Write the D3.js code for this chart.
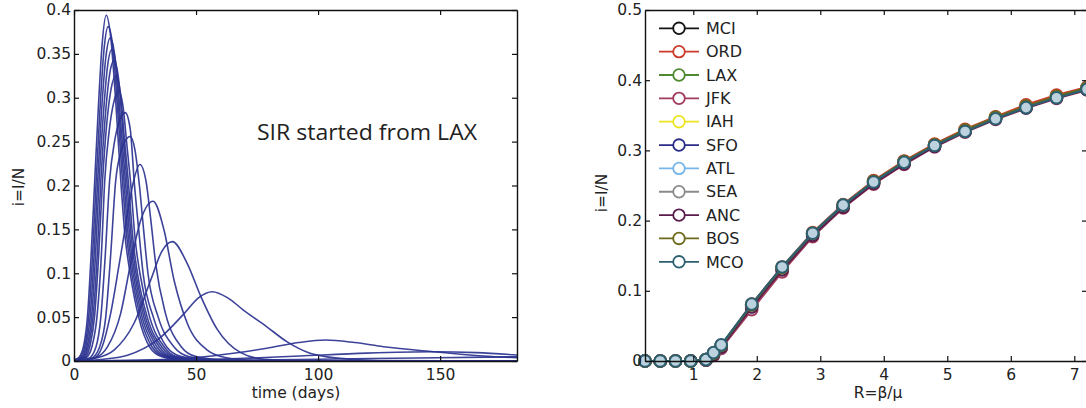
<!DOCTYPE html>
<html>
<head>
<meta charset="utf-8">
<script src="https://cdn.jsdelivr.net/npm/d3@7"></script>
<style>
  body { margin: 0; background: #fff; }
  svg { display: block; font-family: "DejaVu Sans", sans-serif; }
</style>
</head>
<body>
<svg id="chart" width="1086" height="408"></svg>
<script>
// ---- left panel: i(t) curves, [day, i] ----
const curveA = [[0,0.001],[2,0.004],[4,0.018],[5.5,0.05],[7,0.12],[8.5,0.206],[10,0.29],[11.5,0.36],[13.2,0.394],[15,0.37],[17,0.3],[19.3,0.2],[21,0.14],[23,0.1],[26.5,0.05],[31,0.016],[36,0.005],[45,0.001],[60,0],[181.5,0]];
const curveB = [[0,0.001],[2.5,0.004],[4.5,0.018],[6,0.05],[7.6,0.12],[9.1,0.206],[10.7,0.29],[12.3,0.355],[14,0.381],[15.8,0.36],[17.8,0.29],[20,0.2],[21.7,0.14],[23.6,0.1],[27.2,0.05],[32,0.016],[37,0.005],[46,0.001],[60,0],[181.5,0]];
const curveC = [[0,0.001],[3,0.004],[5,0.018],[6.6,0.05],[8.2,0.12],[9.7,0.206],[11.3,0.285],[13,0.345],[14.8,0.368],[16.6,0.35],[18.5,0.28],[20.6,0.2],[22.3,0.14],[24.2,0.1],[27.9,0.05],[33,0.016],[38,0.005],[47,0.001],[62,0],[181.5,0]];
const curveD = [[0,0.001],[3.5,0.004],[5.5,0.018],[7.2,0.05],[8.8,0.12],[10.3,0.206],[12,0.28],[13.7,0.335],[15.5,0.355],[17.3,0.337],[19.2,0.27],[21.2,0.2],[22.9,0.14],[24.8,0.1],[28.6,0.05],[34,0.016],[39,0.005],[48,0.001],[64,0],[181.5,0]];
const curveE = [[0,0.001],[4,0.004],[6,0.018],[7.8,0.05],[9.5,0.12],[11,0.206],[12.7,0.275],[14.5,0.325],[16.3,0.342],[18.1,0.325],[20,0.262],[21.8,0.2],[23.5,0.14],[25.4,0.1],[29.3,0.05],[35,0.016],[40,0.005],[50,0.001],[66,0],[181.5,0]];
const curveF = [[0,0.001],[4.5,0.004],[6.6,0.018],[8.4,0.05],[10.1,0.12],[11.7,0.206],[13.4,0.27],[15.2,0.31],[17.1,0.325],[18.9,0.308],[20.6,0.255],[22.4,0.2],[24.1,0.14],[26,0.1],[30,0.05],[36,0.016],[41,0.005],[52,0.001],[68,0],[181.5,0]];
const curveG = [[0,0.001],[5,0.004],[7.5,0.018],[9.4,0.05],[11.2,0.12],[12.6,0.206],[14.4,0.262],[16.3,0.295],[18.2,0.308],[20,0.292],[21.7,0.245],[23.3,0.2],[25,0.14],[27,0.1],[31,0.05],[37,0.016],[42,0.005],[54,0.001],[70,0],[181.5,0]];
const curveH = [[0,0.0005],[6,0.003],[9,0.016],[11,0.05],[12.8,0.12],[14.6,0.206],[16.6,0.25],[18.8,0.275],[21,0.283],[23,0.265],[24.8,0.2],[26.5,0.15],[28.3,0.1],[32.5,0.05],[38,0.016],[44,0.005],[56,0.001],[72,0],[181.5,0]];
const curveI = [[0,0.0005],[7,0.003],[10.5,0.016],[13,0.05],[15,0.12],[17.1,0.206],[19.5,0.24],[23,0.256],[25,0.24],[26.8,0.2],[28.5,0.15],[30.3,0.1],[34.5,0.05],[41,0.016],[47,0.005],[58,0.001],[75,0],[181.5,0]];
const curveJ = [[0,0.0003],[8,0.003],[11.5,0.016],[15,0.054],[18.5,0.11],[21.5,0.16],[24,0.2],[27,0.224],[29.5,0.205],[31.5,0.16],[33.5,0.11],[37.5,0.054],[44,0.016],[50,0.005],[62,0.001],[80,0],[181.5,0]];
const curveK = [[0,0.0002],[9,0.004],[13.7,0.016],[19.1,0.054],[23.2,0.111],[27.3,0.16],[32.4,0.182],[36.9,0.149],[41,0.092],[46.4,0.043],[54.6,0.0125],[62,0.004],[75,0.0005],[90,0],[181.5,0]];
const curveL = [[0,0.0002],[10,0.004],[16.4,0.0125],[24.6,0.043],[31.4,0.092],[36,0.125],[40.3,0.136],[46.4,0.111],[51.9,0.074],[58.7,0.036],[68.3,0.0095],[78,0.002],[95,0],[181.5,0]];
const curveM = [[0,0.0001],[12,0.002],[21.9,0.0065],[34.2,0.024],[45.1,0.054],[51,0.072],[56.7,0.079],[63,0.072],[69.4,0.058],[79,0.039],[87.2,0.022],[96.7,0.0088],[109,0.003],[125,0.0005],[181.5,0]];
const curveN = [[0,0],[30,0.001],[51.6,0.0042],[65.3,0.0088],[79,0.0145],[92,0.021],[103,0.0239],[115,0.021],[126.8,0.0163],[147.3,0.0106],[167.7,0.0057],[181.5,0.0038]];
const curveO = [[0,0],[40,0.001],[70,0.003],[92.6,0.0057],[120,0.009],[147,0.0106],[165,0.0095],[181.5,0.0068]];
const curveP = [[0,0],[60,0.0008],[100,0.002],[140,0.0035],[181.5,0.0048]];
const curveZero = [[0,0],[181.5,0]];

const sirCurves = [curveZero, curveP, curveO, curveN, curveM, curveL, curveK, curveJ,
  curveI, curveH, curveG, curveF, curveE, curveD, curveC, curveB, curveA];
const dayTicks = [0, 50, 100, 150];
const iTicksLeft = [0, 0.05, 0.1, 0.15, 0.2, 0.25, 0.3, 0.35, 0.4];

// ---- right panel: final i vs R for each start airport ----
const rValues = [0.24, 0.48, 0.72, 0.96, 1.2, 1.32, 1.44, 1.92, 2.4, 2.88, 3.36, 3.84, 4.32, 4.8, 5.28, 5.76, 6.24, 6.72, 7.2];
const mci = [0, 0, 0, 0, 0.002, 0.011, 0.022, 0.08, 0.133, 0.182, 0.222, 0.256, 0.284, 0.308, 0.329, 0.347, 0.363, 0.377, 0.389];
const ord = [0, 0, 0, 0, 0.002, 0.011, 0.022, 0.081, 0.134, 0.183, 0.223, 0.257, 0.285, 0.309, 0.33, 0.348, 0.365, 0.379, 0.39];
const lax = [0, 0, 0, 0, 0.002, 0.01, 0.021, 0.079, 0.132, 0.181, 0.221, 0.255, 0.283, 0.307, 0.328, 0.346, 0.362, 0.376, 0.388];
const jfk = [0, 0, 0, 0, 0.001, 0.008, 0.018, 0.073, 0.127, 0.177, 0.218, 0.252, 0.28, 0.305, 0.326, 0.344, 0.36, 0.374, 0.386];
const iah = [0, 0, 0, 0, 0.002, 0.01, 0.021, 0.079, 0.132, 0.181, 0.221, 0.255, 0.283, 0.307, 0.328, 0.346, 0.362, 0.376, 0.388];
const sfo = [0, 0, 0, 0, 0.002, 0.01, 0.02, 0.078, 0.131, 0.18, 0.22, 0.254, 0.282, 0.306, 0.327, 0.345, 0.361, 0.375, 0.387];
const atl = [0, 0, 0, 0, 0.002, 0.011, 0.022, 0.08, 0.133, 0.182, 0.222, 0.255, 0.283, 0.307, 0.328, 0.346, 0.362, 0.376, 0.388];
const sea = [0, 0, 0, 0, 0.002, 0.01, 0.021, 0.079, 0.132, 0.181, 0.221, 0.255, 0.283, 0.307, 0.328, 0.346, 0.362, 0.376, 0.388];
const anc = [0, 0, 0, 0, 0.001, 0.009, 0.02, 0.077, 0.13, 0.179, 0.219, 0.253, 0.281, 0.306, 0.327, 0.345, 0.361, 0.375, 0.387];
const bos = [0, 0, 0, 0, 0.002, 0.011, 0.022, 0.08, 0.133, 0.182, 0.222, 0.256, 0.284, 0.308, 0.329, 0.347, 0.363, 0.377, 0.389];
const mco = [0, 0, 0, 0, 0.002, 0.012, 0.023, 0.081, 0.134, 0.182, 0.222, 0.255, 0.283, 0.307, 0.327, 0.345, 0.361, 0.375, 0.387];

const airports = ["MCI", "ORD", "LAX", "JFK", "IAH", "SFO", "ATL", "SEA", "ANC", "BOS", "MCO"];
const airportValues = [mci, ord, lax, jfk, iah, sfo, atl, sea, anc, bos, mco];
const rTicks = [1, 2, 3, 4, 5, 6, 7];
const iTicksRight = [0, 0.1, 0.2, 0.3, 0.4, 0.5];

const boje = {
  MCI: "#151515", ORD: "#cc3b2a", LAX: "#4e8a30", JFK: "#a23c5c", IAH: "#ece41e",
  SFO: "#2a2a88", ATL: "#78b6ea", SEA: "#8a8a8a", ANC: "#5a1c4c", BOS: "#6c6a1c", MCO: "#2c5f70",
};

const svg = d3.select("#chart");
const fmt = d3.format("");

function okvir(g, x, y, xTicks, yTicks, xFmt) {
  const [x0, x1] = x.range();
  const [y0, y1] = y.range();
  g.append("g").attr("transform", `translate(0,${y0})`)
    .call(d3.axisBottom(x).tickValues(xTicks).tickFormat(xFmt).tickSizeInner(-5).tickSizeOuter(0).tickPadding(8));
  g.append("g").attr("transform", `translate(0,${y1})`)
    .call(d3.axisTop(x).tickValues(xTicks).tickFormat("").tickSizeInner(-5).tickSizeOuter(0));
  g.append("g").attr("transform", `translate(${x0},0)`)
    .call(d3.axisLeft(y).tickValues(yTicks).tickFormat(fmt).tickSizeInner(-5).tickSizeOuter(0).tickPadding(3));
  g.append("g").attr("transform", `translate(${x1},0)`)
    .call(d3.axisRight(y).tickValues(yTicks).tickFormat("").tickSizeInner(-5).tickSizeOuter(0));
  g.selectAll(".domain").attr("stroke", "#111").attr("stroke-width", 1.4);
  g.selectAll(".tick line").attr("stroke", "#111").attr("stroke-width", 1.2);
  g.selectAll(".tick text").attr("font-size", 15.5).attr("font-family", "DejaVu Sans, sans-serif").attr("fill", "#222");
}

// ---- left ----
const xL = d3.scaleLinear().domain([0, 181.5]).range([74, 517]);
const yL = d3.scaleLinear().domain([0, 0.4]).range([361, 10]);

svg.append("clipPath").attr("id", "clipL")
  .append("rect").attr("x", 74).attr("y", 8).attr("width", 443).attr("height", 353);

const linija = d3.line().x((d) => xL(d[0])).y((d) => yL(d[1])).curve(d3.curveMonotoneX);

const lijevo = svg.append("g");
lijevo.append("g").attr("clip-path", "url(#clipL)")
  .selectAll("path")
  .data(sirCurves)
  .join("path")
  .attr("d", linija)
  .attr("fill", "none")
  .attr("stroke", "#2b3390")
  .attr("stroke-width", 1.6)
  .attr("stroke-opacity", 0.92);

okvir(lijevo, xL, yL, dayTicks, iTicksLeft, fmt);

lijevo.append("text")
  .attr("x", 257).attr("y", 140)
  .attr("font-family", "Open Sans, sans-serif").attr("font-size", 21)
  .attr("textLength", 220).attr("lengthAdjust", "spacingAndGlyphs")
  .attr("fill", "#222")
  .text("SIR started from LAX");

lijevo.append("text")
  .attr("x", 296).attr("y", 398).attr("text-anchor", "middle")
  .attr("font-size", 15.5).attr("fill", "#222")
  .text("time (days)");

lijevo.append("text")
  .attr("transform", "translate(24,187) rotate(-90)").attr("text-anchor", "middle")
  .attr("font-size", 15.5).attr("fill", "#222")
  .text("i=I/N");

// ---- right ----
const xR = d3.scaleLinear().domain([0.24, 7.2]).range([645, 1087]);
const yR = d3.scaleLinear().domain([0, 0.5]).range([361, 10]);

const desno = svg.append("g");
const krivulja = d3.line().x((d) => xR(d[0])).y((d) => yR(d[1]));

airports.forEach((ime, k) => {
  const tocke = rValues.map((r, j) => [r, airportValues[k][j]]);
  const grupa = desno.append("g");
  grupa.append("path")
    .attr("d", krivulja(tocke))
    .attr("fill", "none")
    .attr("stroke", boje[ime])
    .attr("stroke-width", 2.2);
  grupa.selectAll("circle")
    .data(tocke)
    .join("circle")
    .attr("cx", (d) => xR(d[0]))
    .attr("cy", (d) => yR(d[1]))
    .attr("r", 5.8)
    .attr("fill", "#bcd2de")
    .attr("stroke", boje[ime])
    .attr("stroke-width", 2);
});

okvir(desno, xR, yR, rTicks, iTicksRight, fmt);

const legenda = desno.append("g")
  .selectAll("g")
  .data(airports)
  .join("g")
  .attr("transform", (d, k) => `translate(0,${28.3 + k * 23.35})`);
legenda.append("line")
  .attr("x1", 659).attr("x2", 699)
  .attr("stroke", (d) => boje[d]).attr("stroke-width", 1.8);
legenda.append("circle")
  .attr("cx", 679).attr("r", 5.8)
  .attr("fill", "#fff").attr("stroke", (d) => boje[d]).attr("stroke-width", 1.8);
legenda.append("text")
  .attr("x", 706).attr("y", 5.7)
  .attr("font-size", 16).attr("fill", "#222")
  .text((d) => d);

desno.append("text")
  .attr("x", 878).attr("y", 398).attr("text-anchor", "middle")
  .attr("font-size", 15.5).attr("fill", "#222")
  .text("R=β/μ");

desno.append("text")
  .attr("transform", "translate(607,193) rotate(-90)").attr("text-anchor", "middle")
  .attr("font-size", 15.5).attr("fill", "#222")
  .text("i=I/N");
</script>
</body>
</html>
